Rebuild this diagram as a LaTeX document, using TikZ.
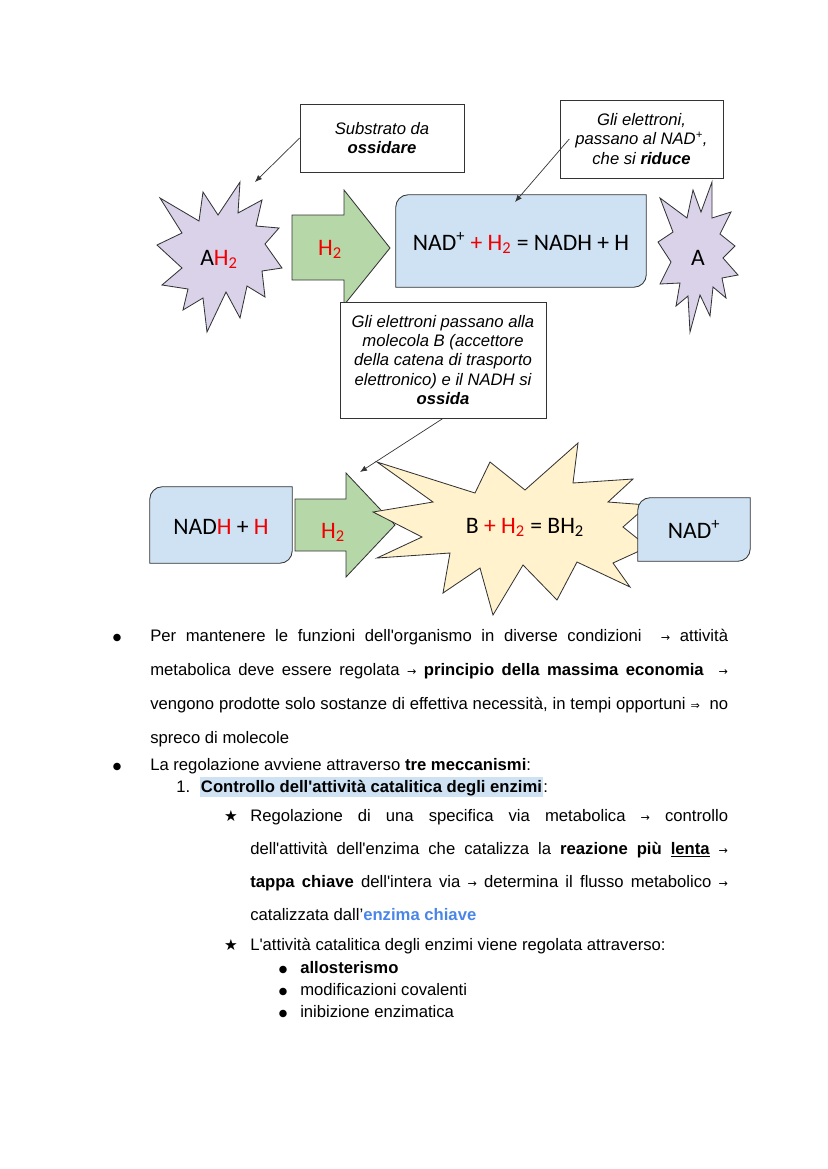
\documentclass[tikz,border=0pt]{standalone}
\usepackage{fontspec}
\setmainfont{Liberation Sans}[Ligatures=TeXOff]
\newfontfamily\handfont{Carlito}
\newfontfamily\symfont{DejaVu Sans}
\usepackage{xcolor}
\usetikzlibrary{arrows.meta, calc}
\definecolor{lavblock}{RGB}{217, 210, 233}
\definecolor{grnblock}{RGB}{182, 215, 168}
\definecolor{blublock}{RGB}{207, 226, 243}
\definecolor{yelblock}{RGB}{255, 242, 204}
\definecolor{hilite}{RGB}{207, 226, 243}
\definecolor{keyblue}{RGB}{74, 134, 232}
\definecolor{hred}{RGB}{240, 0, 0}
\definecolor{edge}{RGB}{51, 51, 51}

\tikzset{
	callout/.style={draw=edge, line width=0.6pt, fill=white, align=center, inner sep=0pt,
		font=\fontsize{12}{14}\selectfont\itshape},
	pointer/.style={draw=edge, line width=0.5pt, -{Latex[length=5pt, width=4pt]}},
	chem/.style={anchor=base, font=\handfont\fontsize{17}{19}\selectfont, inner sep=0pt},
	panel/.style={draw=edge, line width=0.6pt, fill=blublock},
	burst/.style={draw=edge, line width=0.6pt, line join=miter},
	body/.style={anchor=base west, inner sep=0pt, font=\fontsize{12}{14}\selectfont},
	bul/.style={anchor=base, inner sep=0pt, font=\symfont\fontsize{7}{9}\selectfont},
	starbul/.style={anchor=base, inner sep=0pt, font=\symfont\fontsize{11}{12}\selectfont},
}

% blue box with two rounded corners
\newcommand{\diagpanel}[1]{%
	\draw[panel] (#1.south west) -- ([yshift=-9pt]#1.north west)
		arc[start angle=180, end angle=90, radius=9pt] -- (#1.north east)
		-- ([yshift=9pt]#1.south east) arc[start angle=0, end angle=-90, radius=9pt] -- cycle;}

\newcommand{\arr}{{\symfont\fontsize{8}{10}\selectfont →}}
\newcommand{\darr}{{\symfont\fontsize{8}{10}\selectfont ⇒}}

\begin{document}
\begin{tikzpicture}[x=0.72pt, y=-0.72pt]
	\useasboundingbox (0,0) rectangle (828,1169);
	
	% first reaction
	\draw[burst, fill=lavblock] plot coordinates {(240,182) (238,213) (262,200) (256,226)
		(279,228) (265,244) (282,268) (262,271) (265,297) (247,286) (240,318) (226,292)
		(207,332) (203,298) (183,310) (188,289) (162,285) (182,268) (157,245) (182,233)
		(160,198) (199,221) (203,192) (218,215)} -- cycle;
	\node[chem] (ah) at (219,265) {A\textcolor{hred}{H\textsubscript{2}}};
	
	\draw[burst, fill=grnblock] (292,215) -- (344,215) -- (344,190) -- (390,248)
		-- (344,305) -- (344,280) -- (292,280) -- cycle;
	\node[chem] (hA) at (330,255) {\textcolor{hred}{H\textsubscript{2}}};
	
	\node[minimum width=180pt, minimum height=66.2pt] (eqA) at (521,241) {};
	\diagpanel{eqA}
	\node[chem] (eqAtxt) at (521,250) {NAD\textsuperscript{+} \textcolor{hred}{+ H\textsubscript{2}} = NADH + H};
	
	\draw[burst, fill=lavblock] plot coordinates {(712,182) (712,218) (731,212) (720,234)
		(735,246) (723,258) (738,275) (722,278) (726,298) (713,287) (710,316) (700,295)
		(690,332) (688,296) (676,306) (680,283) (660,284) (671,262) (658,242) (673,232)
		(660,198) (687,218) (693,190) (701,212)} -- cycle;
	\node[chem] (a) at (698,265) {A};
	
	\node[callout, minimum width=118pt, minimum height=49pt] (subs) at (382,138) {Substrato da\\\textbf{ossidare}};
	\node[callout, minimum width=117.4pt, minimum height=56.2pt] (toNad) at (641.5,139)
		{Gli elettroni,\\passano al NAD\textsuperscript{+},\\che si \textbf{riduce}};
	\node[callout, minimum width=148.3pt, minimum height=83.5pt] (toB) at (443,360)
		{Gli elettroni passano alla\\molecola B (accettore\\della catena di trasporto\\elettronico) e il NADH si\\\textbf{ossida}};
	
	% second reaction
	\node[minimum width=102.2pt, minimum height=54.7pt] (nadh) at (221,525) {};
	\diagpanel{nadh}
	\node[chem] (nadhtxt) at (221,534) {NAD\textcolor{hred}{H} + \textcolor{hred}{H}};
	
	\draw[burst, fill=grnblock] (295,499) -- (346,499) -- (346,473) -- (395,525)
		-- (346,577) -- (346,551) -- (295,551) -- cycle;
	\node[chem] (hB) at (333,538) {\textcolor{hred}{H\textsubscript{2}}};
	
	\draw[burst, fill=yelblock] plot coordinates {(377,462) (475,493) (490,462) (525,490)
		(578,443) (573,483) (633,479) (608,502) (648,505) (623,527) (648,547) (613,563)
		(630,587) (577,562) (557,600) (523,565) (493,615) (480,568) (443,593) (450,553)
		(377,558) (422,537) (373,512) (433,502)} -- cycle;
	\node[chem] (b) at (525,533) {B \textcolor{hred}{+ H\textsubscript{2}} = BH\textsubscript{2}};
	
	\node[minimum width=80.6pt, minimum height=45.4pt] (nad) at (694,529.5) {};
	\diagpanel{nad}
	\node[chem] (nadtxt) at (694,538) {NAD\textsuperscript{+}};
	
	\coordinate (subsTip) at (255,182);
	\coordinate (nadTip) at (515,202);
	\coordinate (bTip) at (360,472);
	\draw[pointer] (subs.west) -- (subsTip);
	\draw[pointer] ([xshift=7pt]toNad.west) -- (nadTip);
	\draw[pointer] (toB.south) -- (bTip);
	
	% notes
	\node[bul] (d1) at (117,640) {●};
	\node[body] (p1) at (150,641) {\makebox[416pt][s]{Per mantenere le funzioni dell'organismo in diverse condizioni \ \arr{} attività}};
	\node[body] (p2) at (150,675) {\makebox[416pt][s]{metabolica deve essere regolata \arr{} \textbf{principio della massima economia} \ \arr}};
	\node[body] (p3) at (150,709) {\makebox[416pt][s]{vengono prodotte solo sostanze di effettiva necessità, in tempi opportuni \darr{} \ no}};
	\node[body] (p4) at (150,743) {spreco di molecole};
	
	\node[bul] (d2) at (117,769) {●};
	\node[body] (q1) at (150,770) {La regolazione avviene attraverso \textbf{tre meccanismi}:};
	\node[body] (n1) at (176,792) {1.};
	\node[body, fill=hilite, inner xsep=0.5pt, text height=10.5pt, text depth=3.5pt] (ctl) at (200,792)
		{\textbf{Controllo dell'attività catalitica degli enzimi}};
	\node[body] (colon) at (ctl.base east) {:};
	
	\node[starbul] (s1) at (231,821) {★};
	\node[body] (r1) at (250,821) {\makebox[344pt][s]{Regolazione di una specifica via metabolica \arr{} controllo}};
	\node[body] (r2) at (250,854) {\makebox[344pt][s]{dell'attività dell'enzima che catalizza la \textbf{reazione più \underline{lenta}} \arr}};
	\node[body] (r3) at (250,887) {\makebox[344pt][s]{\textbf{tappa chiave} dell'intera via \arr{} determina il flusso metabolico \arr}};
	\node[body] (r4) at (250,920) {catalizzata dall’\textcolor{keyblue}{\textbf{enzima chiave}}};
	
	\node[starbul] (s2) at (231,950) {★};
	\node[body] (r5) at (250,950) {L'attività catalitica degli enzimi viene regolata attraverso:};
	\node[bul] (e1) at (283,972) {●};
	\node[body] (m1) at (300,973) {\textbf{allosterismo}};
	\node[bul] (e2) at (283,994) {●};
	\node[body] (m2) at (300,995) {modificazioni covalenti};
	\node[bul] (e3) at (283,1016) {●};
	\node[body] (m3) at (300,1017) {inibizione enzimatica};
	
\end{tikzpicture}
\end{document}
